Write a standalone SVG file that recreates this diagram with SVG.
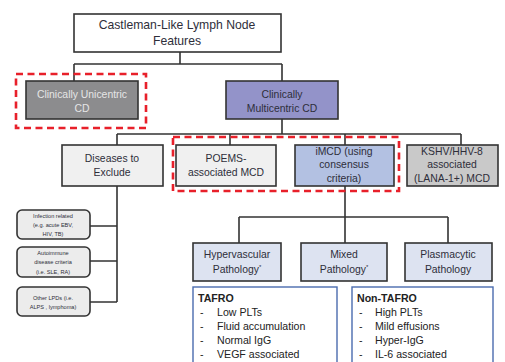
<svg xmlns="http://www.w3.org/2000/svg" width="505" height="362" viewBox="0 0 505 362">
<style>
text{font-family:"Liberation Sans",Arial,sans-serif;text-anchor:middle;fill:#2e2e3a}
.b{stroke:#333;stroke-width:1.6}
.t{font-size:12.2px}
.m{font-size:10.4px}
.s{font-size:5.6px}
.l{font-size:10.6px;text-anchor:start;fill:#222}
.hl{fill:none;stroke:#e8202a;stroke-width:2.6;stroke-dasharray:7,4.5}
.c{fill:none;stroke:#333;stroke-width:1.6}
</style>
<rect width="505" height="362" fill="#fff"/>
<g id="connectors">
<path class="c" d="M180 52V64M74 64H282M74 64V81M282 64V81"/>
<path class="c" d="M282 119V134M117 134H461M117 134V145M230 134V145M345 134V145M461 134V145"/>
<path class="c" d="M117 186V302M90 226H117M90 261H117M90 302H117"/>
<path class="c" d="M345 186V217M239 217H448M239 217V243M345 217V243M448 217V243"/>
</g>
<g id="n-top"><rect class="b" x="74" y="14" width="207" height="38" fill="#fff"/><text class="t" x="177" y="29">Castleman-Like Lymph Node</text><text class="t" x="177" y="45">Features</text></g>
<g id="n-uni"><rect class="b" x="26" y="81" width="112" height="38" fill="#8c8c8e"/><text class="m" x="82" y="98" style="fill:#e6e6e6">Clinically Unicentric</text><text class="m" x="82" y="112" style="fill:#e6e6e6">CD</text></g>
<g id="n-multi"><rect class="b" x="226" y="81" width="112" height="38" fill="#9393c9"/><text class="m" x="282" y="98">Clinically</text><text class="m" x="282" y="112">Multicentric CD</text></g>
<g id="n-dis"><rect class="b" x="62" y="145" width="101" height="41" fill="#f0f0f0"/><text class="m" x="112" y="162">Diseases to</text><text class="m" x="112" y="176">Exclude</text></g>
<g id="n-poems"><rect class="b" x="176" y="145" width="100" height="41" fill="#f0f0f0"/><text class="m" x="226" y="162">POEMS-</text><text class="m" x="226" y="176">associated MCD</text></g>
<g id="n-imcd"><rect class="b" x="295" y="145" width="99" height="41" fill="#b3c1e2"/><text class="m" x="344" y="155">iMCD (using</text><text class="m" x="344" y="168">consensus</text><text class="m" x="344" y="182">criteria)</text></g>
<g id="n-kshv"><rect class="b" x="407" y="145" width="91" height="41" fill="#c9c9c9"/><text class="m" x="452" y="155">KSHV/HHV-8</text><text class="m" x="452" y="168">associated</text><text class="m" x="452" y="182">(LANA-1+) MCD</text></g>
<g id="n-inf"><rect class="b" x="17" y="210" width="73" height="29" rx="5" fill="#ececec"/><text class="s" x="53" y="218">Infection related</text><text class="s" x="53" y="227">(e.g. acute EBV,</text><text class="s" x="53" y="236">HIV, TB)</text></g>
<g id="n-auto"><rect class="b" x="17" y="247" width="73" height="30" rx="5" fill="#ececec"/><text class="s" x="53" y="255">Autoimmune</text><text class="s" x="53" y="264">disease criteria</text><text class="s" x="53" y="274">(i.e. SLE, RA)</text></g>
<g id="n-lpd"><rect class="b" x="17" y="287" width="73" height="29" rx="5" fill="#ececec"/><text class="s" x="53" y="300">Other LPDs (i.e.</text><text class="s" x="53" y="309">ALPS , lymphoma)</text></g>
<g id="n-hyper"><rect class="b" x="193" y="243" width="88" height="38" fill="#dde3f1"/><text class="m" x="237" y="258">Hypervascular</text><text class="m" x="237" y="273">Pathology<tspan font-size="6" dy="-4">*</tspan></text></g>
<g id="n-mixed"><rect class="b" x="301" y="243" width="86" height="38" fill="#dde3f1"/><text class="m" x="344" y="258">Mixed</text><text class="m" x="344" y="273">Pathology<tspan font-size="6" dy="-4">*</tspan></text></g>
<g id="n-plasma"><rect class="b" x="405" y="243" width="87" height="38" fill="#dde3f1"/><text class="m" x="448" y="258">Plasmacytic</text><text class="m" x="448" y="273">Pathology</text></g>
<g id="n-tafro"><rect x="193" y="287" width="144" height="80" fill="#fff" stroke="#4a6cae" stroke-width="1.4"/>
<text class="l" x="198" y="302" font-weight="bold">TAFRO</text>
<text class="l" x="200" y="316">-</text><text class="l" x="217" y="316">Low PLTs</text>
<text class="l" x="200" y="330">-</text><text class="l" x="217" y="330">Fluid accumulation</text>
<text class="l" x="200" y="344">-</text><text class="l" x="217" y="344">Normal IgG</text>
<text class="l" x="200" y="358">-</text><text class="l" x="217" y="358">VEGF associated</text></g>
<g id="n-nontafro"><rect x="352" y="287" width="141" height="80" fill="#fff" stroke="#4a6cae" stroke-width="1.4"/>
<text class="l" x="357" y="302" font-weight="bold">Non-TAFRO</text>
<text class="l" x="359" y="316">-</text><text class="l" x="375" y="316">High PLTs</text>
<text class="l" x="359" y="330">-</text><text class="l" x="375" y="330">Mild effusions</text>
<text class="l" x="359" y="344">-</text><text class="l" x="375" y="344">Hyper-IgG</text>
<text class="l" x="359" y="358">-</text><text class="l" x="375" y="358">IL-6 associated</text></g>
<rect class="hl" x="16" y="74" width="130" height="54"/>
<rect class="hl" x="173" y="137" width="226" height="54"/>
</svg>
